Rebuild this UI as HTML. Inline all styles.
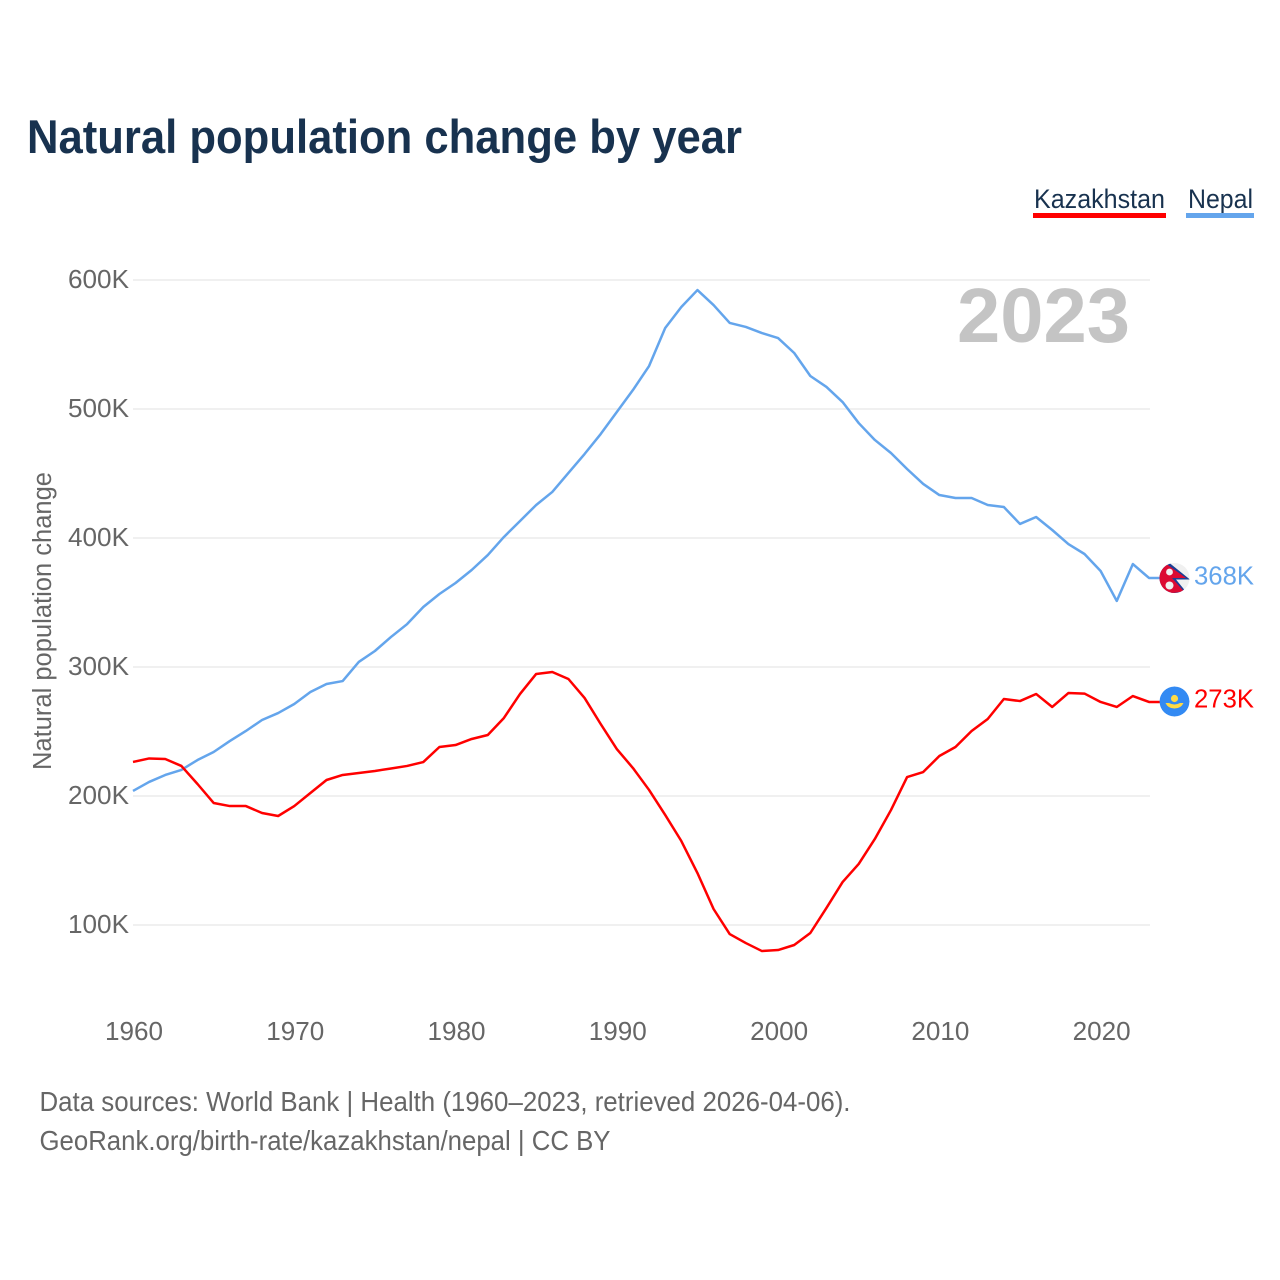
<!DOCTYPE html>
<html lang="en">
<head>
<meta charset="utf-8">
<title>Natural population change by year</title>
<style>
html,body{margin:0;padding:0;background:#fff;width:1280px;height:1280px;overflow:hidden}
svg{display:block}
text{font-family:"Liberation Sans",sans-serif}
</style>
</head>
<body>
<svg id="chart" width="1280" height="1280" viewBox="0 0 1280 1280" xmlns="http://www.w3.org/2000/svg">
  <text x="27" y="153" font-size="47" font-weight="700" fill="#18324f" textLength="715" lengthAdjust="spacingAndGlyphs">Natural population change by year</text>

  <g>
    <g style="cursor:pointer">
      <text x="1034" y="208" font-size="27" fill="#18324f" textLength="131" lengthAdjust="spacingAndGlyphs">Kazakhstan</text>
      <rect x="1033" y="213" width="133" height="5" fill="#ff0000"/>
    </g>
    <g style="cursor:pointer">
      <text x="1188" y="208" font-size="27" fill="#18324f" textLength="65" lengthAdjust="spacingAndGlyphs">Nepal</text>
      <rect x="1186" y="213" width="68" height="5" fill="#64a5ec"/>
    </g>
  </g>

  <g id="grid"></g>
  <g id="yticks"></g>
  <g id="xticks"></g>

  <text transform="translate(51,621) rotate(-90)" text-anchor="middle" font-size="25.5" fill="#666666" textLength="298" lengthAdjust="spacingAndGlyphs">Natural population change</text>

  <text x="957" y="342" font-size="77" font-weight="700" fill="#c4c4c4" textLength="173" lengthAdjust="spacingAndGlyphs">2023</text>

  <g id="series"></g>

  <defs>
    <clipPath id="clip-np"><circle cx="1174.5" cy="578" r="15"/></clipPath>
    <clipPath id="clip-kz"><circle cx="1174.5" cy="701.5" r="15"/></clipPath>
  </defs>

  <g>
    <circle cx="1174.5" cy="578" r="15" fill="#f0f0f0"/>
    <g clip-path="url(#clip-np)">
      <polygon points="1158,561 1167,561 1190,579.5 1176,579.5 1187,593 1158,595" fill="#1c3f94"/>
      <polygon points="1158,561 1165,563 1186,578 1172,578 1184,591.5 1158,595" fill="#dc0a32"/>
    </g>
    <circle cx="1169.5" cy="572" r="3.4" fill="#f0f0f0"/>
    <circle cx="1169.5" cy="585.5" r="4" fill="#f0f0f0"/>
  </g>
  <g clip-path="url(#clip-kz)">
    <circle cx="1174.5" cy="701.5" r="15" fill="#338af3"/>
    <circle cx="1174.5" cy="698.5" r="3.6" fill="#ffda44"/>
    <path d="M1165.5 703 L1169 703 Q1174.5 706 1180 703 L1183.5 703 Q1181 708.5 1174.5 708.5 Q1168 708.5 1165.5 703 Z" fill="#ffda44"/>
  </g>

  <text x="1194" y="584.5" font-size="26" fill="#64a5ec" textLength="60" lengthAdjust="spacingAndGlyphs">368K</text>
  <text x="1194" y="707.5" font-size="26" fill="#ff0000" textLength="60" lengthAdjust="spacingAndGlyphs">273K</text>

  <text x="39.5" y="1111" font-size="27.5" fill="#666666" textLength="811" lengthAdjust="spacingAndGlyphs">Data sources: World Bank | Health (1960–2023, retrieved 2026-04-06).</text>
  <text x="39.5" y="1150" font-size="27.5" fill="#666666" textLength="571" lengthAdjust="spacingAndGlyphs">GeoRank.org/birth-rate/kazakhstan/nepal | CC BY</text>
</svg>
<script>
const startYear = 1960;
const endYear = 2023;
const yTickValues = [100, 200, 300, 400, 500, 600];
const yTickLabels = ['100K', '200K', '300K', '400K', '500K', '600K'];
const xTickYears = [1960, 1970, 1980, 1990, 2000, 2010, 2020];
const nepalValues = [203.9,210.9,216.3,220.2,227.9,234.1,242.6,250.4,258.9,264.3,271.3,280.6,286.8,289.1,303.9,312.4,323.3,333.3,346.5,356.6,365.1,375.2,386.8,400.8,413.2,425.6,435.7,450.4,465.1,480.6,497.7,514.7,533.3,562.8,579.1,592.2,580.6,566.7,563.6,558.9,555,543.4,525.6,517.1,505.4,489.1,476,465.9,453.5,441.9,433.3,431,431,425.6,424,410.9,416.3,406.2,395.3,387.6,374.4,351.2,379.8,369];
const kazakhstanValues = [226.4,229.1,228.7,223.3,209.3,194.6,192.2,192.2,186.8,184.5,192.2,202.3,212.4,216.3,217.8,219.4,221.3,223.3,226.3,238,239.5,244.2,247.3,260.5,279.1,294.6,296.1,290.7,276,255.8,236.4,221.7,204.7,185.3,165.1,140.3,112.4,93,86,79.8,80.6,84.5,93.8,113.2,133.3,147.3,166.7,189.1,214.7,218.6,231,238,250.4,259.7,275.2,273.6,279.1,269,279.8,279.4,272.9,269,277.5,272.9];

const SVG_NS = 'http://www.w3.org/2000/svg';
const xScale = year => 133 + (year - startYear) * (1149 - 133) / (endYear - startYear);
const yScale = value => 925 - (value - 100) * (925 - 280) / 500;

const grid = document.getElementById('grid');
const yticks = document.getElementById('yticks');
const xticks = document.getElementById('xticks');
const series = document.getElementById('series');

yTickValues.forEach((value, i) => {
  const line = document.createElementNS(SVG_NS, 'line');
  
  
  line.setAttribute('x1', 133);
  line.setAttribute('x2', 1150);
  line.setAttribute('y1', yScale(value));
  line.setAttribute('y2', yScale(value));
  line.setAttribute('stroke', '#ececec');
  line.setAttribute('stroke-width', 1.5);
  grid.appendChild(line);

  const label = document.createElementNS(SVG_NS, 'text');
  
  
  label.setAttribute('x', 129);
  label.setAttribute('y', yScale(value) + 8);
  label.setAttribute('text-anchor', 'end');
  label.setAttribute('font-size', 25.5);
  label.setAttribute('fill', '#666666');
  label.setAttribute('textLength', 61);
  label.setAttribute('lengthAdjust', 'spacingAndGlyphs');
  label.textContent = yTickLabels[i];
  yticks.appendChild(label);
});

xTickYears.forEach(year => {
  const label = document.createElementNS(SVG_NS, 'text');
  
  
  label.setAttribute('x', xScale(year) + 1);
  label.setAttribute('y', 1040);
  label.setAttribute('text-anchor', 'middle');
  label.setAttribute('font-size', 25.5);
  label.setAttribute('fill', '#666666');
  label.setAttribute('textLength', 58);
  label.setAttribute('lengthAdjust', 'spacingAndGlyphs');
  label.textContent = String(year);
  xticks.appendChild(label);
});

function linePath(values) {
  const points = values.map((v, i) => (i ? 'L' : 'M') + xScale(startYear + i).toFixed(2) + ' ' + yScale(v).toFixed(2));
  points.push('L1160 ' + yScale(values[values.length - 1]).toFixed(2));
  return points.join(' ');
}

const nepalLine = document.createElementNS(SVG_NS, 'path');


nepalLine.setAttribute('d', linePath(nepalValues));
nepalLine.setAttribute('fill', 'none');
nepalLine.setAttribute('stroke', '#64a5ec');
nepalLine.setAttribute('stroke-width', 2.5);
nepalLine.setAttribute('stroke-linejoin', 'round');
series.appendChild(nepalLine);

const kazakhstanLine = document.createElementNS(SVG_NS, 'path');


kazakhstanLine.setAttribute('d', linePath(kazakhstanValues));
kazakhstanLine.setAttribute('fill', 'none');
kazakhstanLine.setAttribute('stroke', '#ff0000');
kazakhstanLine.setAttribute('stroke-width', 2.5);
kazakhstanLine.setAttribute('stroke-linejoin', 'round');
series.appendChild(kazakhstanLine);
</script>
</body>
</html>
